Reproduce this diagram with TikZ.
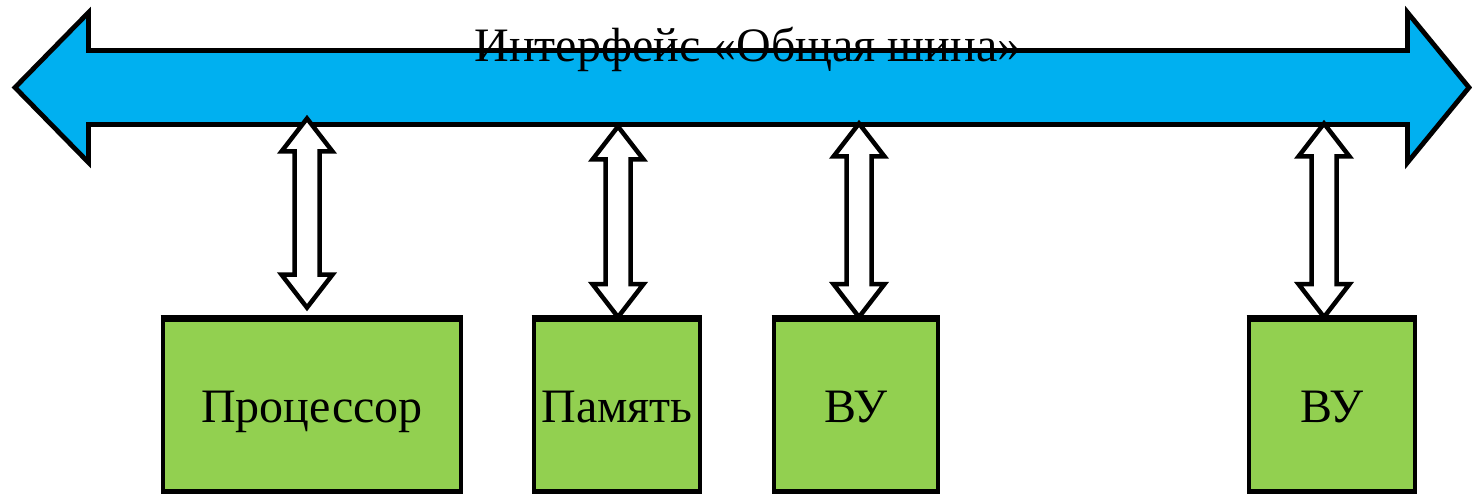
\documentclass[tikz,border=0pt]{standalone}
\usepackage{fontspec}
\setmainfont{Liberation Serif}
\usetikzlibrary{calc}

\definecolor{busblue}{HTML}{00B0F0}
\definecolor{unitgreen}{HTML}{92D050}

\tikzset{
  bus/.style={draw=black, fill=busblue, line width=4.8pt, line join=miter},
  link/.style={draw=black, fill=white, line width=4.5pt, line join=miter},
  unit/.style={draw=black, fill=unitgreen, line width=4.8pt, inner sep=0pt,
    minimum height=172pt, text height=33pt, text depth=0pt,
    font=\fontsize{48pt}{52pt}\selectfont},
  buslabel/.style={anchor=base, inner sep=0pt, font=\fontsize{48pt}{52pt}\selectfont}
}

% hollow double arrow between a bus port (#1) and a unit (#2)
\newcommand\linkarrow[2]{%
  \path[link] let \p1=(#1), \p2=(#2) in
    (\x1,\y1) -- (\x1+25.5pt,\y1-33pt) -- (\x1+12.5pt,\y1-33pt)
    -- (\x1+12.5pt,\y2+33pt) -- (\x1+25.5pt,\y2+33pt) -- (\x1,\y2)
    -- (\x1-25.5pt,\y2+33pt) -- (\x1-12.5pt,\y2+33pt)
    -- (\x1-12.5pt,\y1-33pt) -- (\x1-25.5pt,\y1-33pt) -- cycle;}

\begin{document}
\begin{tikzpicture}[x=1pt, y=-1pt]
  \useasboundingbox (0,0) rectangle (1472,494);

  % the common bus
  \path[bus] (15,87.5) -- (88.5,12.5) -- (88.5,50.5) -- (1407.5,50.5)
    -- (1407.5,12.5) -- (1469,87.5) -- (1407.5,162.5) -- (1407.5,124.5)
    -- (88.5,124.5) -- (88.5,162.5) -- cycle;

  % bus ports
  \coordinate (port1) at (307,118.5);
  \coordinate (port2) at (618,126.5);
  \coordinate (port3) at (859,123.5);
  \coordinate (port4) at (1324,123.5);

  % units
  \node[unit, minimum width=298pt] (cpu)  at (312,405.5)  {Процессор};
  \node[unit, minimum width=166pt] (mem)  at (617,405.5)  {Память};
  \node[unit, minimum width=164pt] (io1)  at (856,405.5)  {ВУ};
  \node[unit, minimum width=166pt] (io2)  at (1332,405.5) {ВУ};

  % links between bus and units
  \linkarrow{port1}{$(cpu.north)+(0,-9.5)$}
  \linkarrow{port2}{mem.north}
  \linkarrow{port3}{io1.north}
  \linkarrow{port4}{io2.north}

  % redraw unit frames over the arrow tips
  \foreach \u in {cpu,mem,io1,io2}
    \draw[line width=4.8pt] (\u.north west) -- (\u.north east);

  \node[buslabel] (title) at (748,61.5) {Интерфейс «Общая шина»};
\end{tikzpicture}
\end{document}
